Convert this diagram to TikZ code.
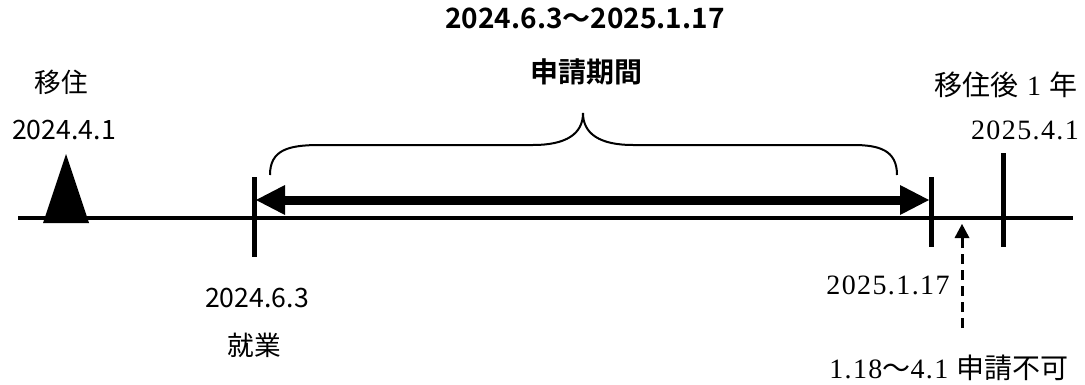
\documentclass[tikz,border=0pt]{standalone}
\usepackage{fontspec}
\setmainfont{Noto Sans CJK JP}[BoldFont=* Bold]
\newfontfamily\sr{Liberation Serif}[LetterSpace=5]
\usetikzlibrary{arrows.meta,positioning}
\tikzset{
	axis/.style={line width=3pt},
	tick/.style={line width=3.75pt},
	period/.style={line width=6.75pt,{Triangle[length=21.75pt,width=22.5pt,line width=0pt]}-{Triangle[length=21.75pt,width=22.5pt,line width=0pt]}},
	brace/.style={line width=1.5pt},
	lbl/.style={font=\fontsize{20}{24}\selectfont,inner sep=0pt},
	mc/.style={font=\fontsize{21}{24}\selectfont\sr,inner sep=0pt},
	ttl/.style={font=\fontsize{21}{26}\selectfont\bfseries,inner sep=0pt},
	note/.style={line width=2.25pt,dash pattern=on 7.5pt off 4.5pt,-{Triangle[length=10.5pt,width=11.25pt,line width=0pt]}}
}

\begin{document}
\begin{tikzpicture}[x=0.75pt,y=-0.75pt]
	\useasboundingbox (0,0) rectangle (1085,385);
	\coordinate (start) at (18,218);
	\coordinate (end) at (1073,218);
	\coordinate (ps) at (256,200);
	\coordinate (pe) at (929,200);
	\coordinate (nb) at (962,328);
	\coordinate (nt) at (962,224);
	
	\node[ttl] (span) at (585,18) {2024.6.3〜2025.1.17};
	\node[ttl] (apply) at (586,72) {申請期間};
	\node[lbl] (move) at (61,82) {移住};
	\node[lbl] (moved) at (64,130) {2024.4.1};
	\node[mc] (year) at (1006,85) {{\rmfamily 移住後} 1 {\rmfamily 年}};
	\node[mc] (yeard) at (1025,130) {2025.4.1};
	\node[lbl] (jobd) at (257,298) {2024.6.3};
	\node[lbl] (job) at (254,345) {就業};
	\node[mc] (last) at (888,285) {2025.1.17};
	\node[mc] (ng) at (949,368) {1.18{\rmfamily 〜}4.1 {\rmfamily 申請不可}};
	
	\draw[axis] (start) -- (end);
	\fill (43,223) -- (66,154) -- (89,223) -- cycle;
	\draw[tick] (254,177) -- (254,257);
	\draw[tick] (931,177) -- (931,247);
	\draw[tick] (1003,153) -- (1003,247);
	\draw[period] (ps) -- (pe);
	\draw[brace] (270,175) .. controls (270,150) and (288,145) .. (320,145) -- (533,145)
		.. controls (566,145) and (583,134) .. (583,113)
		.. controls (583,134) and (600,145) .. (633,145) -- (853,145)
		.. controls (879,145) and (897,150) .. (897,175);
	\draw[note] (nb) -- (nt);
\end{tikzpicture}
\end{document}
